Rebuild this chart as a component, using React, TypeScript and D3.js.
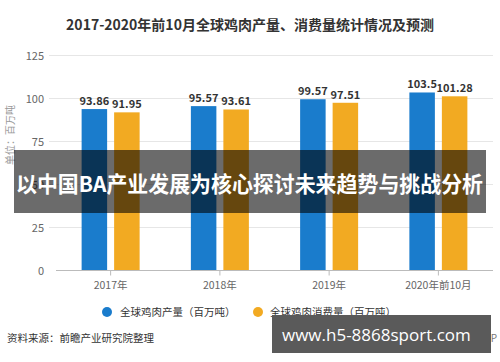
import React from "react";
import * as d3 from "d3";

const categories = ["2017年", "2018年", "2019年", "2020年前10月"];
const production = [93.86, 95.57, 99.57, 103.5];
const consumption = [91.95, 93.61, 97.51, 101.28];
const yTicks = [0, 25, 50, 75, 100, 125];
const seriesNames = ["全球鸡肉产量（百万吨）", "全球鸡肉消费量（百万吨）"];

const W = 500, H = 362;
const BLUE = "#1a7ccc";
const ORANGE = "#f2aa22";
const CJK = "'Noto Sans CJK SC', 'Noto Sans', sans-serif";

export default function App() {
  const x = d3.scaleBand<string>().domain(categories).range([56, 493]);
  const y = d3.scaleLinear().domain([0, 125]).range([270.5, 55.5]);
  const barW = 25.5;
  const gap = 7;
  return (
    <svg width={W} height={H} style={{ position: "absolute", left: 0, top: 0, background: "#fff" }} fontFamily={CJK}>
      <rect width={W} height={H} fill="#fff" />
      <text x={250} y={30} textAnchor="middle" fontSize={14} fontWeight="bold" fill="#333">
        2017-2020年前10月全球鸡肉产量、消费量统计情况及预测
      </text>
      {yTicks.map((t) => (
        <g key={t}>
          {t > 0 && <line x1={49} x2={493} y1={y(t)} y2={y(t)} stroke="#e6e6e6" strokeWidth={1} />}
          <text x={44} y={y(t) + 4} textAnchor="end" fontSize={11} fill="#666">{t}</text>
        </g>
      ))}
      <text transform={`translate(14,135) rotate(-90)`} textAnchor="middle" fontSize={10} fill="#999">单位：百万吨</text>
      {categories.map((c, i) => {
        const cx = x(c)! + x.bandwidth() / 2;
        const bx1 = cx - gap / 2 - barW;
        const bx2 = cx + gap / 2;
        return (
          <g key={c}>
            <rect x={bx1} y={y(production[i])} width={barW} height={y(0) - y(production[i])} fill={BLUE} />
            <rect x={bx2} y={y(consumption[i])} width={barW} height={y(0) - y(consumption[i])} fill={ORANGE} />
            <text x={bx1 + barW / 2} y={y(production[i]) - 4} textAnchor="middle" fontSize={11} fontWeight="bold" fill="#333">{production[i]}</text>
            <text x={bx2 + barW / 2} y={y(consumption[i]) - 4} textAnchor="middle" fontSize={11} fontWeight="bold" fill="#333">{consumption[i]}</text>
            <line x1={cx} x2={cx} y1={y(0)} y2={y(0) + 5} stroke="#bbb" />
            <text x={cx} y={289} textAnchor="middle" fontSize={10.5} fill="#666">{c}</text>
          </g>
        );
      })}
      <line x1={56} x2={493} y1={y(0)} y2={y(0)} stroke="#bbb" strokeWidth={1} />
      <circle cx={107} cy={312} r={5} fill={BLUE} />
      <text x={120} y={316} fontSize={10.5} fill="#333">{seriesNames[0]}</text>
      <circle cx={258} cy={312} r={5} fill={ORANGE} />
      <text x={270} y={316} fontSize={10.5} fill="#333">{seriesNames[1]}</text>
      <text x={7} y={342} fontSize={10.5} fill="#333">资料来源：前瞻产业研究院整理</text>
      <text x={497} y={342} textAnchor="end" fontSize={10} fill="#777">@前瞻经济学人APP</text>
      <rect x={14} y={150} width={472} height={63} fill="rgba(0,0,0,0.58)" />
      <text x={16} y={192} fontSize={21.5} fontWeight="bold" fill="#fff" textLength={467} lengthAdjust="spacingAndGlyphs">
        以中国BA产业发展为核心探讨未来趋势与挑战分析
      </text>
      <rect x={272} y={315} width={219} height={38} fill="#5a5a5a" />
      <text x={282} y={341} fontSize={17} fontWeight="500" fill="#fff" fontFamily="'Open Sans', 'Noto Sans', sans-serif">www.h5-8868sport.com</text>
    </svg>
  );
}
